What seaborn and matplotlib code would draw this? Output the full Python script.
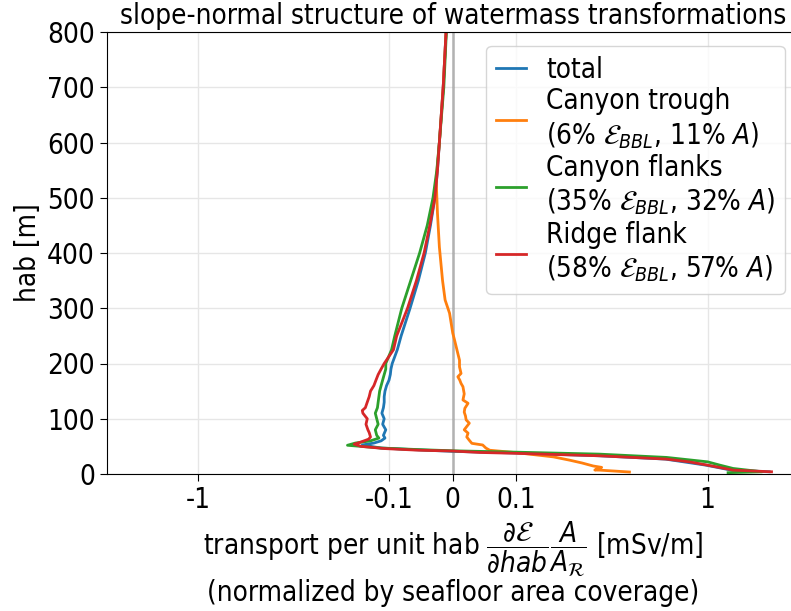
import numpy as np
import pandas as pd
import matplotlib
matplotlib.use("Agg")
import matplotlib.pyplot as plt
import seaborn as sns
from matplotlib.ticker import NullLocator
from matplotlib import font_manager

# ---------------- data ----------------
hab_total = [4, 7, 16, 27, 33, 38, 41, 44, 47, 52.5, 56, 60, 65, 70, 80, 90, 100, 110,
             120, 130, 140, 150, 160, 170, 180, 190, 200, 225, 250, 300, 350, 400, 450,
             500, 550, 600, 700, 800]
x_total = [2.1, 1.33, 0.98, 0.6, 0.27, 0.1, 0.0, -0.06, -0.11, -0.138, -0.12, -0.11,
           -0.105, -0.107, -0.104, -0.108, -0.106, -0.109, -0.107, -0.106, -0.106, -0.105,
           -0.103, -0.100, -0.098, -0.097, -0.095, -0.087, -0.081, -0.067, -0.054, -0.043,
           -0.035, -0.028, -0.024, -0.021, -0.015, -0.0105]

hab_trough = [3.6, 7, 7.2, 12, 14.5, 20, 25, 31, 38.6, 43, 47, 52.5, 55.5, 61, 67, 74, 80,
              86, 92, 98, 105, 112, 119, 128, 134, 145, 158, 164, 170, 176, 182, 194, 206,
              218, 243, 255, 291, 315, 350, 411, 472, 532, 600, 700, 800]
x_trough = [0.39, 0.273, 0.257, 0.279, 0.252, 0.22, 0.19, 0.156, 0.1, 0.058, 0.052, 0.047,
            0.03, 0.026, 0.022, 0.024, 0.018, 0.022, 0.026, 0.021, 0.02, 0.018, 0.019, 0.024,
            0.016, 0.018, 0.016, 0.013, 0.011, 0.008, 0.013, 0.0106, 0.0106, 0.008, 0.0027,
            0.0, -0.005, -0.012, -0.016, -0.021, -0.024, -0.026, -0.021, -0.015, -0.0105]

hab_flanks = [2.4, 4, 10, 16, 22, 30, 36, 39.5, 42, 44, 47, 52, 56, 60, 65, 70, 80, 90, 100,
              110, 120, 130, 140, 150, 160, 170, 180, 190, 200, 225, 250, 300, 350, 400, 450,
              500, 550, 600, 700, 800]
x_flanks = [1.28, 1.93, 1.36, 1.16, 1.0, 0.61, 0.27, 0.1, 0.0, -0.05, -0.11, -0.165, -0.15,
            -0.125, -0.113, -0.116, -0.118, -0.114, -0.116, -0.118, -0.115, -0.114, -0.113,
            -0.112, -0.11, -0.108, -0.106, -0.104, -0.104, -0.096, -0.091, -0.080, -0.066,
            -0.052, -0.040, -0.031, -0.025, -0.021, -0.014, -0.010]

hab_ridge = [4, 7, 12, 16, 22, 27, 33, 37.4, 39, 41.6, 43, 46, 50, 54, 58, 63, 67, 75, 80,
             90, 100, 110, 115, 120, 130, 140, 150, 160, 170, 180, 190, 200, 225, 250, 300,
             350, 400, 450, 500, 550, 600, 700, 800]
x_ridge = [2.16, 1.36, 1.15, 1.0, 0.8, 0.61, 0.27, 0.1, 0.042, 0.0, -0.053, -0.105, -0.14,
           -0.152, -0.14, -0.128, -0.125, -0.127, -0.129, -0.132, -0.13, -0.137, -0.138,
           -0.133, -0.13, -0.127, -0.125, -0.12, -0.117, -0.114, -0.11, -0.106, -0.093,
           -0.088, -0.071, -0.057, -0.045, -0.036, -0.028, -0.024, -0.021, -0.015, -0.0105]

labels = [
    "total",
    "Canyon trough\n(6% $\\mathcal{E}_{BBL}$, 11% $A$)",
    "Canyon flanks\n(35% $\\mathcal{E}_{BBL}$, 32% $A$)",
    "Ridge flank\n(58% $\\mathcal{E}_{BBL}$, 57% $A$)",
]
xtick_vals = [-1, -0.1, 0, 0.1, 1]
xtick_labels = ["-1", "-0.1", "0", "0.1", "1"]
ytick_vals = [0, 100, 200, 300, 400, 500, 600, 700, 800]

frames = []
for lab, h, x in zip(labels,
                     [hab_total, hab_trough, hab_flanks, hab_ridge],
                     [x_total, x_trough, x_flanks, x_ridge]):
    frames.append(pd.DataFrame({"hab": h, "x": x, "region": lab}))
df = pd.concat(frames, ignore_index=True)

# ---------------- figure ----------------
condensed = any("Condensed" in f.fname for f in font_manager.fontManager.ttflist
                if f.name == "DejaVu Sans")
plt.rcParams["font.family"] = ["DejaVu Sans"]
if condensed:
    plt.rcParams["font.stretch"] = "condensed"
FS = 20 if condensed else 18
plt.rcParams["font.size"] = FS
plt.rcParams["mathtext.fontset"] = "dejavusans"

fig = plt.figure(figsize=(7.91, 6.11), dpi=100)
ax = fig.add_axes([106.7 / 791, (611 - 474) / 611, (798.8 - 106.7) / 791, (474 - 32) / 611])

ax.set_xscale("symlog", linthresh=0.1, linscale=0.3)
ax.grid(True, color="#e6e6e6", lw=1)
ax.set_axisbelow(True)
ax.axvline(0, color="gray", alpha=0.5, lw=2, zorder=1)

palette = ["#1f77b4", "#ff7f0e", "#2ca02c", "#d62728"]
sns.lineplot(data=df, x="x", y="hab", hue="region", palette=palette, sort=False,
             estimator=None, lw=2, ax=ax)

ax.set_xlim(-3, 3)
ax.set_ylim(0, 800)
ax.set_xticks(xtick_vals)
ax.set_xticklabels(xtick_labels)
ax.set_yticks(ytick_vals)
ax.xaxis.set_minor_locator(NullLocator())
ax.yaxis.set_minor_locator(NullLocator())
ax.tick_params(labelsize=FS, length=5)

ax.set_ylabel("hab [m]", fontsize=FS, labelpad=4)
ax.set_xlabel("transport per unit hab $\\dfrac{\\partial\\mathcal{E}}{\\partial hab}\\dfrac{A}{A_\\mathcal{R}}$ [mSv/m]\n(normalized by seafloor area coverage)",
              fontsize=FS, labelpad=4, linespacing=1.0)
ax.set_title("slope-normal structure of watermass transformations", fontsize=FS, pad=6)

leg = ax.legend(loc="upper right", fontsize=FS, handlelength=1.1, labelspacing=0.12,
                borderpad=0.35, handletextpad=0.7)

fig.savefig("out.png", dpi=100)
